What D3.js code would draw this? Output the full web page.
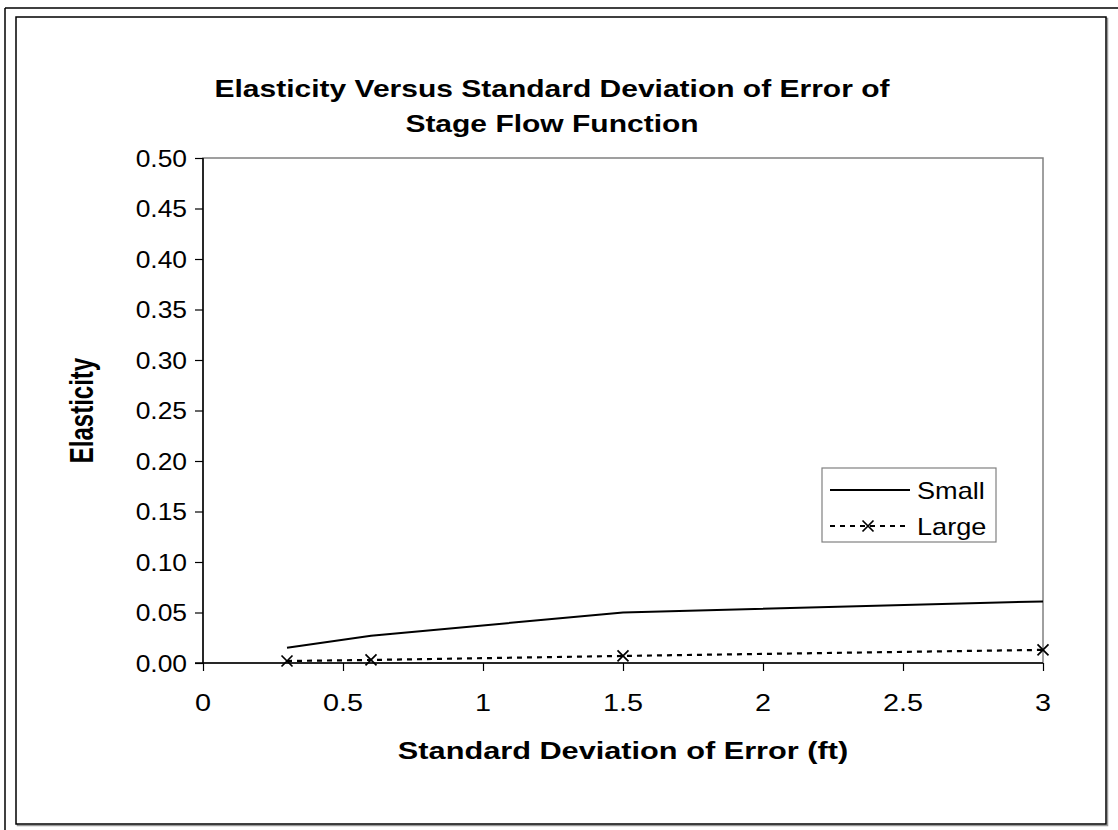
<!DOCTYPE html>
<html><head><meta charset="utf-8">
<script src="https://cdn.jsdelivr.net/npm/d3@7"></script>
<style>html,body{margin:0;padding:0;background:#fff;}svg{display:block;}</style>
</head><body>
<script>
const xValues = [0.3, 0.6, 1.5, 3];
const smallValues = [0.015, 0.027, 0.050, 0.061];
const largeValues = [0.002, 0.003, 0.007, 0.013];
const seriesNames = ["Small", "Large"];
const xTicks = [0, 0.5, 1, 1.5, 2, 2.5, 3];
const yTicks = [0, 0.05, 0.1, 0.15, 0.2, 0.25, 0.3, 0.35, 0.4, 0.45, 0.5];
const titleLines = ["Elasticity Versus Standard Deviation of Error of", "Stage Flow Function"];

const W = 1118, H = 830;
const svg = d3.select("body").append("svg").attr("width", W).attr("height", H);
const font = "'Liberation Sans', Arial, sans-serif";
const SX = 1.15; // horizontal stretch of the original picture

function stretchedText(g, tx, ty, str, opts) {
  const o = Object.assign({size: 24, bold: false, anchor: "start", sx: SX, rotate: 0}, opts || {});
  const tr = o.rotate ? `translate(${tx},${ty}) scale(${o.sx},1) rotate(${o.rotate})` : `translate(${tx},${ty}) scale(${o.sx},1)`;
  return g.append("text").attr("transform", tr).attr("text-anchor", o.anchor)
    .attr("font-family", font).attr("font-size", o.size).attr("font-weight", o.bold ? "bold" : "normal")
    .attr("fill", "#000").text(str);
}

// outer frame lines
svg.append("line").attr("x1",5).attr("x2",5).attr("y1",8).attr("y2",H).attr("stroke","#000").attr("stroke-width",1.5);
svg.append("line").attr("x1",5).attr("x2",W).attr("y1",8).attr("y2",8).attr("stroke","#000").attr("stroke-width",1.5);
// inner chart frame with shadow
svg.append("rect").attr("x",17.5).attr("y",18.5).attr("width",1090).attr("height",807).attr("fill","none").attr("stroke","#999").attr("stroke-width",1.5);
svg.append("rect").attr("x",16).attr("y",17).attr("width",1090).attr("height",807).attr("fill","#fff").attr("stroke","#000").attr("stroke-width",1.5);

const x = d3.scaleLinear().domain([0,3]).range([203,1043]);
const y = d3.scaleLinear().domain([0,0.5]).range([663,158]);

// plot area border (gray)
svg.append("rect").attr("x",x(0)).attr("y",y(0.5)).attr("width",x(3)-x(0)).attr("height",y(0)-y(0.5))
  .attr("fill","none").attr("stroke","#808080").attr("stroke-width",1.5);

// title
titleLines.forEach((l,i)=>stretchedText(svg, 552, 97 + i*35, l, {size: 24, bold: true, anchor: "middle", sx: 1.25}));

// axes (ticks through d3 axis, labels drawn stretched)
const yAxis = d3.axisLeft(y).tickValues(yTicks).tickFormat("").tickSize(8);
const gy = svg.append("g").attr("transform",`translate(${x(0)},0)`).call(yAxis);
const xAxis = d3.axisBottom(x).tickValues(xTicks).tickFormat("").tickSize(8);
const gx = svg.append("g").attr("transform",`translate(0,${y(0)})`).call(xAxis);
[gx,gy].forEach(g=>{
  g.select(".domain").attr("stroke","#000").attr("stroke-width",1.5);
  g.selectAll(".tick line").attr("stroke","#000").attr("stroke-width",1.2);
});
gx.select(".domain").attr("d",`M${x(0)-8},0H${x(3)}`);
gy.select(".domain").attr("d",`M0,${y(0)}V${y(0.5)}`);

const fmtY = d3.format(".2f");
yTicks.forEach(v=>stretchedText(svg, 187, y(v)+8.5, fmtY(v), {anchor: "end", sx: 1.1}));
xTicks.forEach(v=>stretchedText(svg, x(v), 711, String(v), {anchor: "middle", sx: 1.2}));

// axis titles
stretchedText(svg, (x(0)+x(3))/2, 759, "Standard Deviation of Error (ft)", {bold: true, anchor: "middle", sx: 1.28});
stretchedText(svg, 93, (y(0)+y(0.5))/2, "Elasticity", {bold: true, anchor: "middle", sx: 1.35, rotate: -90});

// series
const line = d3.line().x(d=>x(d[0])).y(d=>y(d[1]));
const smallData = xValues.map((v,i)=>[v, smallValues[i]]);
const largeData = xValues.map((v,i)=>[v, largeValues[i]]);
svg.append("path").attr("d",line(smallData)).attr("fill","none").attr("stroke","#000").attr("stroke-width",2);
svg.append("path").attr("d",line(largeData)).attr("fill","none").attr("stroke","#000").attr("stroke-width",2.2).attr("stroke-dasharray","5,5");
const xMark = (g,cx,cy,s)=>g.append("path").attr("d",`M${cx-s},${cy-s}L${cx+s},${cy+s}M${cx-s},${cy+s}L${cx+s},${cy-s}`).attr("stroke","#000").attr("stroke-width",1.7);
largeData.forEach(d=>xMark(svg,x(d[0]),y(d[1]),5.5));

// legend
const lg = svg.append("g");
lg.append("rect").attr("x",822).attr("y",468).attr("width",174).attr("height",74).attr("fill","#fff").attr("stroke","#808080").attr("stroke-width",1.2);
lg.append("line").attr("x1",830).attr("x2",910).attr("y1",490).attr("y2",490).attr("stroke","#000").attr("stroke-width",2);
lg.append("line").attr("x1",830).attr("x2",910).attr("y1",526).attr("y2",526).attr("stroke","#000").attr("stroke-width",2.2).attr("stroke-dasharray","5,5");
xMark(lg,868,526,5.5);
seriesNames.forEach((n,i)=>stretchedText(lg, 917, 499+i*36, n, {size: 23, sx: 1.18}));
</script>
</body></html>
